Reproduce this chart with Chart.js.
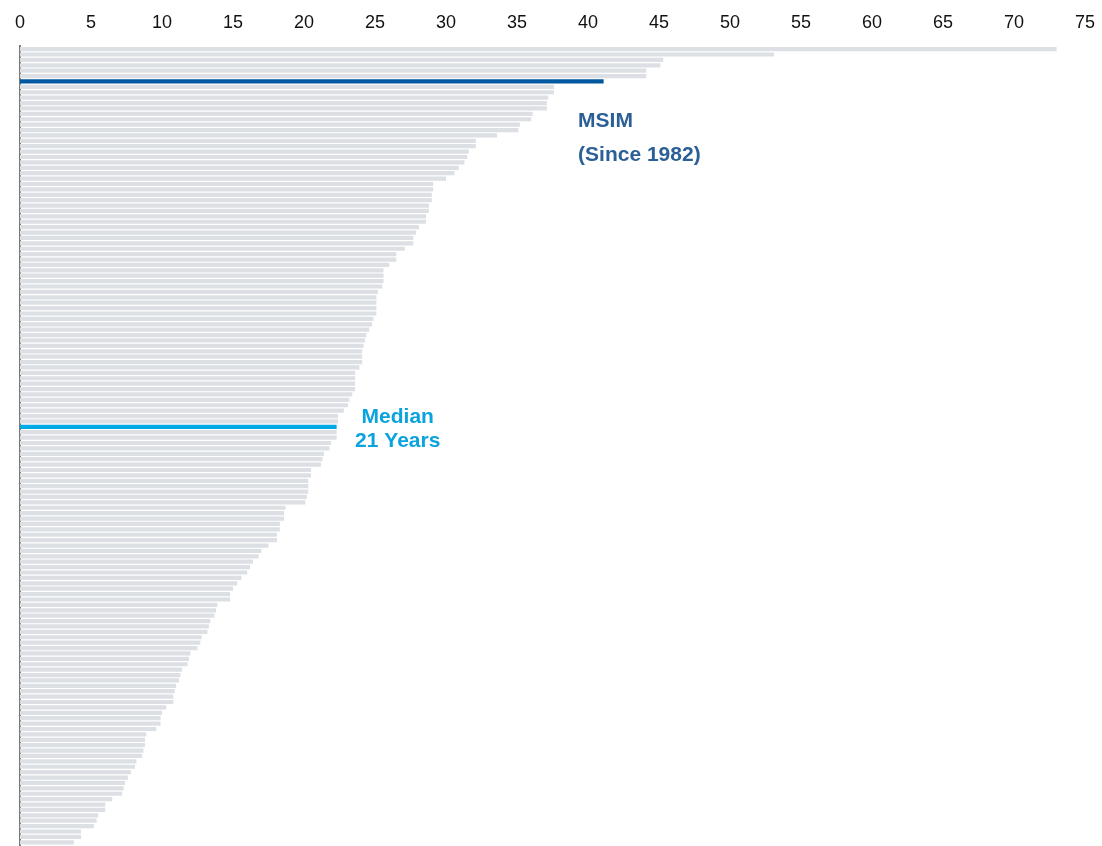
<!DOCTYPE html>
<html>
<head>
<meta charset="utf-8">
<script src="https://cdn.jsdelivr.net/npm/chart.js@4"></script>
<style>
  html, body { margin: 0; padding: 0; background: #fff; }
  #wrap { width: 1102px; height: 846px; }
</style>
</head>
<body>
<div id="wrap"><canvas id="myChart"></canvas></div>
<script>
// years in business, sorted high to low (one bar per firm)
const years = [
  73.0, 53.1, 45.3, 45.1, 44.1, 44.1, 41.1, 37.6, 37.6, 37.2,
  37.1, 37.1, 36.1, 36.0, 35.2, 35.1, 33.6, 32.1, 32.1, 31.6,
  31.5, 31.3, 30.9, 30.6, 30.0, 29.1, 29.1, 29.0, 29.0, 28.8,
  28.8, 28.6, 28.6, 28.1, 27.9, 27.7, 27.7, 27.1, 26.5, 26.5,
  26.0, 25.6, 25.6, 25.6, 25.5, 25.2, 25.1, 25.1, 25.1, 25.1,
  24.9, 24.8, 24.6, 24.4, 24.3, 24.2, 24.1, 24.1, 24.1, 23.9,
  23.6, 23.6, 23.6, 23.6, 23.4, 23.2, 23.1, 22.8, 22.4, 22.4,
  22.3, 22.3, 22.3, 21.9, 21.8, 21.4, 21.3, 21.2, 20.5, 20.5,
  20.3, 20.3, 20.3, 20.2, 20.1, 18.7, 18.6, 18.6, 18.3, 18.3,
  18.1, 18.1, 17.5, 17.0, 16.8, 16.4, 16.2, 16.0, 15.6, 15.3,
  15.0, 14.8, 14.8, 13.9, 13.8, 13.7, 13.4, 13.3, 13.2, 12.8,
  12.7, 12.5, 12.0, 11.9, 11.8, 11.4, 11.3, 11.2, 11.0, 10.9,
  10.8, 10.8, 10.3, 10.0, 9.9, 9.9, 9.6, 8.9, 8.8, 8.8,
  8.7, 8.6, 8.2, 8.1, 7.8, 7.6, 7.4, 7.3, 7.2, 6.5,
  6.0, 6.0, 5.5, 5.4, 5.2, 4.3, 4.3, 3.8
];
const firms = years.map((v, i) => 'Firm ' + (i + 1));
const xTicks = [0, 5, 10, 15, 20, 25, 30, 35, 40, 45, 50, 55, 60, 65, 70, 75];

const msimIndex = 6;
const medianIndex = 70;
const msimLabel = ['MSIM', '(Since 1982)'];
const medianLabel = ['Median', '21 Years'];

const grey = '#dcdfe3';
const msimBlue = '#0058a0';
const msimText = '#2b5f95';
const medianBlue = '#00a9e4';
const medianText = '#0ba3de';

const barColors = years.map((v, i) =>
  i === msimIndex ? msimBlue : (i === medianIndex ? medianBlue : grey));

// text callouts placed through the chart scales
const callouts = {
  id: 'callouts',
  afterDraw(chart) {
    const ctx = chart.ctx;
    const x = chart.scales.x, y = chart.scales.y;
    ctx.save();
    ctx.font = 'bold 21px "Liberation Sans", Arial, sans-serif';
    ctx.textBaseline = 'middle';

    ctx.fillStyle = msimText;
    ctx.textAlign = 'left';
    ctx.fillText(msimLabel[0], x.getPixelForValue(39.3), y.getPixelForValue(13.4));
    ctx.fillText(msimLabel[1], x.getPixelForValue(39.3), y.getPixelForValue(19.7));

    ctx.fillStyle = medianText;
    ctx.textAlign = 'center';
    ctx.fillText(medianLabel[0], x.getPixelForValue(26.6), y.getPixelForValue(68.2));
    ctx.fillText(medianLabel[1], x.getPixelForValue(26.6), y.getPixelForValue(72.6));
    ctx.restore();
  }
};

const data = {
  labels: firms,
  datasets: [{
    data: years,
    backgroundColor: barColors,
    borderWidth: 0,
    barPercentage: 0.78,
    categoryPercentage: 1.0
  }]
};

const config = {
  type: 'bar',
  data: data,
  options: {
    indexAxis: 'y',
    responsive: false,
    animation: false,
    layout: { padding: { top: 0, left: 20, right: 7, bottom: 1 } },
    plugins: { legend: { display: false }, tooltip: { enabled: false } },
    scales: {
      x: {
        position: 'top',
        min: 0,
        max: 75,
        afterBuildTicks: (axis) => { axis.ticks = xTicks.map(v => ({ value: v })); },
        grid: { display: false, drawTicks: false },
        border: { display: false },
        ticks: {
          padding: 7,
          color: '#111',
          font: { family: '"Liberation Sans", Arial, sans-serif', size: 18, lineHeight: 1.8 }
        }
      },
      y: {
        z: 1,
        grid: { display: false, drawTicks: false },
        border: { display: true, color: '#7a7a7a', width: 2 },
        ticks: { display: false }
      }
    }
  },
  plugins: [callouts]
};

const canvas = document.getElementById('myChart');
canvas.width = 1102;
canvas.height = 846;
const myChart = new Chart(canvas, config);
</script>
</body>
</html>
